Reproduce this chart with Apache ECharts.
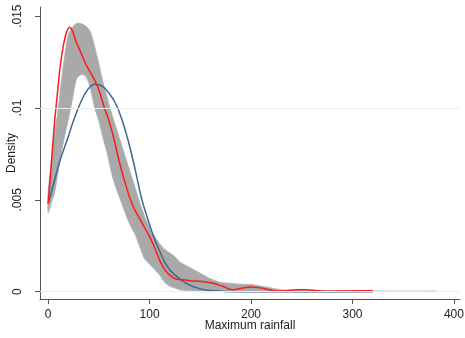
<!DOCTYPE html>
<html>
<head>
<meta charset="utf-8">
<script src="https://cdn.jsdelivr.net/npm/echarts@6/dist/echarts.min.js"></script>
<style>html,body{margin:0;padding:0;background:#fff;}#c{width:465px;height:338px;}</style>
</head>
<body>
<div id="c"></div>
<script>
// Simulated densities (gray band envelope: highest and lowest curve at each x)
var bandX = [0,2,4,6,8,10,13,16,20,24,28,32,36,40,42,46,50,54,58,62,66,70,74,78,82,86,90,95,100,105,110,115,120,125,130,140,150,160,170,180,190,200,210,220,230,240,260,280,300,320,340,360,383];
var bandUpper = [0.0054,0.0065,0.0077,0.0085,0.0092,0.0099,0.0114,0.0127,0.0140,0.0144,0.0146,0.0146,0.0145,0.0143,0.0141,0.0133,0.0124,0.0114,0.0106,0.0098,0.0091,0.0084,0.0077,0.0070,0.0063,0.0056,0.0049,0.0041,0.0035,0.0030,0.0026,0.0023,0.0021,0.0019,0.0016,0.0013,0.0010,0.0007,0.0005,0.00045,0.0004,0.00038,0.0003,0.0002,0.0001,0.00008,0.00006,0.00005,0.00005,0.00004,0.00003,0.00003,0.00003];
var bandLower = [0.0043,0.0046,0.0050,0.0053,0.0059,0.0066,0.0076,0.0084,0.0094,0.0105,0.0116,0.0118,0.0118,0.0114,0.0110,0.0100,0.0093,0.0084,0.0076,0.0066,0.0058,0.0052,0.0046,0.0040,0.0035,0.0031,0.0025,0.0018,0.0015,0.0012,0.0009,0.0005,0.0003,0.0002,0.0001,0.00005,0,0,0,0,0,0,0,0,0,0,0,0,0,0,0,0,0];

// Kernel density of observed data (red)
var redX = [0,3,6,9,12,15,18,21,24,27,30,34,38,42,46,50,55,60,65,70,75,80,85,90,95,100,105,110,115,120,125,132,140,150,162,172,182,192,200,210,218,225,235,245,255,265,275,290,305,320];
var redY = [0.0048,0.0068,0.0090,0.0107,0.0123,0.0134,0.0141,0.0144,0.0142,0.0137,0.0133,0.0128,0.0123,0.0119,0.0115,0.0110,0.0101,0.0093,0.0083,0.0071,0.0061,0.0052,0.0045,0.0040,0.0035,0.0030,0.0024,0.0017,0.0012,0.0009,0.0007,0.00065,0.0006,0.00056,0.00047,0.00029,0.0001,0.0002,0.00025,0.0002,0.0001,0.00003,0.00005,0.0001,0.0001,0.00005,0.00002,0.00003,0.00005,0.00005];

// Normal density (blue)
var blueX = [0,6,12,19,25,32,39,46,53,60,66,72,79,86,92,98,104,110,117,125,138,150,160,175,200,250,320];
var blueY = [0.0048,0.0060,0.0072,0.0083,0.0093,0.0103,0.0110,0.0113,0.0112,0.0108,0.0103,0.0095,0.0082,0.0066,0.0051,0.0040,0.0030,0.0022,0.0014,0.0009,0.0004,0.00015,0.00006,0.00001,0,0,0];

var xTicks = [0,100,200,300,400];
var yTicks = [0,0.005,0.01,0.015];
var xTitle = 'Maximum rainfall';
var yTitle = 'Density';

function pairs(xs, ys){ return xs.map(function(x,i){ return [x, ys[i]]; }); }
function yFmt(v){ return v === 0 ? '0' : String(v).replace(/^0/, ''); }

var font = "'Liberation Sans', Arial, sans-serif";
var chart = echarts.init(document.getElementById('c'), null, {renderer:'canvas'});
chart.setOption({
  animation: false,
  backgroundColor: '#ffffff',
  grid: {left: 40, right: 5, top: 7, bottom: 39, containLabel: false, outerBoundsMode: 'none'},
  xAxis: {
    type: 'value', min: -8, max: 406,
    name: xTitle, nameLocation: 'middle', nameGap: 21, nameMoveOverlap: false,
    nameTextStyle: {fontFamily: font, fontSize: 12, color: '#222'},
    axisLine: {show: true, onZero: false, lineStyle: {color: '#555', width: 1}},
    axisTick: {show: true, length: 5, customValues: xTicks, lineStyle: {color: '#555'}},
    axisLabel: {customValues: xTicks, margin: 10, fontFamily: font, fontSize: 12, color: '#222'},
    splitLine: {show: false}
  },
  yAxis: {
    type: 'value', min: -0.0004, max: 0.0155,
    name: yTitle, nameLocation: 'middle', nameGap: 22, nameMoveOverlap: false,
    nameTextStyle: {fontFamily: font, fontSize: 12, color: '#222'},
    axisLine: {show: true, onZero: false, lineStyle: {color: '#555', width: 1}},
    axisTick: {show: true, length: 5, customValues: yTicks, lineStyle: {color: '#555'}},
    axisLabel: {customValues: yTicks, rotate: 90, margin: 16, align: 'center', verticalAlign: 'bottom',
                fontFamily: font, fontSize: 12, color: '#222', formatter: yFmt},
    splitLine: {show: false}
  },
  series: [
    {
      type: 'line', data: [[-8, 0]], symbol: 'none', lineStyle: {opacity: 0}, silent: true, z: 0,
      markLine: {
        silent: true, symbol: 'none', label: {show: false},
        lineStyle: {color: '#e6efef', type: 'solid', width: 1},
        data: yTicks.map(function(v){ return {yAxis: v}; })
      }
    },
    {
      type: 'custom', silent: true, z: 1,
      data: [[0, 0]],
      renderItem: function(params, api){
        var top = bandX.map(function(x,i){ return api.coord([x, bandUpper[i]]); });
        var bot = bandX.map(function(x,i){ return api.coord([x, bandLower[i]]); }).reverse();
        return {type: 'polygon', shape: {points: top.concat(bot), smooth: 0.2},
                style: {fill: '#a9a9a9', stroke: '#b2b2b2', lineWidth: 1}};
      }
    },
    {
      type: 'line', data: pairs(blueX, blueY), smooth: 0.4, symbol: 'none', z: 2,
      lineStyle: {color: '#3c6893', width: 1.5}
    },
    {
      type: 'line', data: pairs(redX, redY), smooth: 0.3, symbol: 'none', z: 3,
      lineStyle: {color: '#ff1a1a', width: 1.5}
    }
  ]
});
</script>
</body>
</html>
